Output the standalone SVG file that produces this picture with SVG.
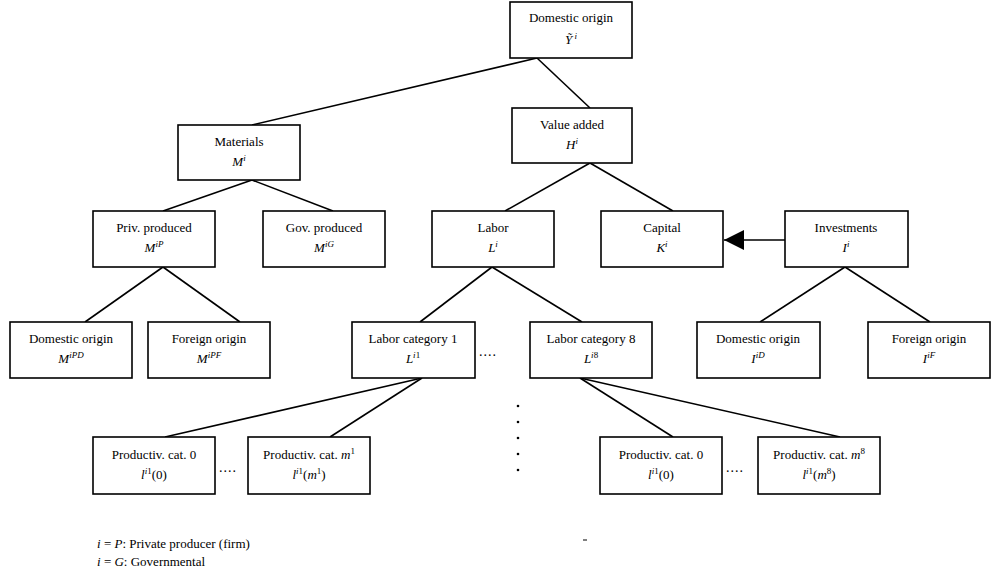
<svg xmlns="http://www.w3.org/2000/svg" width="1003" height="573" viewBox="0 0 1003 573">
<defs>
<style>
.box{fill:#fff;stroke:#000;stroke-width:1.6}
.ln{stroke:#000;stroke-width:1.6;fill:none}
text{font-family:"Liberation Serif","Times New Roman",serif;font-size:13px;fill:#000}
.c{text-anchor:middle}
.it{font-style:italic}
.sup{font-size:9px}
.dots{font-size:14px;letter-spacing:1px}
</style>
<marker id="ah" viewBox="0 0 10 10" refX="10" refY="5" markerWidth="22" markerHeight="20" markerUnits="userSpaceOnUse" orient="auto">
<path d="M0,0 L10,5 L0,10 z" fill="#000"/>
</marker>
</defs>
<g id="connectors">
<line class="ln" x1="537" y1="58" x2="252" y2="125"/>
<line class="ln" x1="537" y1="58" x2="590" y2="108"/>
<line class="ln" x1="252" y1="180" x2="163" y2="211"/>
<line class="ln" x1="252" y1="180" x2="333" y2="211"/>
<line class="ln" x1="590" y1="163" x2="505" y2="211"/>
<line class="ln" x1="590" y1="163" x2="673" y2="211"/>
<line class="ln" x1="163" y1="267" x2="85" y2="322"/>
<line class="ln" x1="163" y1="267" x2="240" y2="322"/>
<line class="ln" x1="492" y1="267" x2="420" y2="322"/>
<line class="ln" x1="492" y1="267" x2="582" y2="322"/>
<line class="ln" x1="845" y1="267" x2="760" y2="322"/>
<line class="ln" x1="845" y1="267" x2="930" y2="322"/>
<line class="ln" x1="422" y1="378" x2="165" y2="437"/>
<line class="ln" x1="422" y1="378" x2="330" y2="437"/>
<line class="ln" x1="580" y1="378" x2="673" y2="437"/>
<line class="ln" x1="580" y1="378" x2="840" y2="437"/>
<line class="ln" x1="785" y1="240" x2="724" y2="240" marker-end="url(#ah)"/>
</g>
<g id="n_top">
<rect class="box" x="510" y="2" width="122" height="56"/>
<text class="c" x="571" y="22">Domestic origin</text>
<text class="c" x="571" y="44"><tspan class="it">Ỹ</tspan><tspan class="it sup" dy="-5"> i</tspan></text>
</g>
<g id="n_materials">
<rect class="box" x="178" y="125" width="122" height="55"/>
<text class="c" x="239" y="146">Materials</text>
<text class="c" x="239" y="166"><tspan class="it">M</tspan><tspan class="it sup" dy="-5">i</tspan></text>
</g>
<g id="n_valueadded">
<rect class="box" x="512" y="108" width="120" height="55"/>
<text class="c" x="572" y="129">Value added</text>
<text class="c" x="572" y="149"><tspan class="it">H</tspan><tspan class="it sup" dy="-5">i</tspan></text>
</g>
<g id="n_priv">
<rect class="box" x="93" y="211" width="122" height="56"/>
<text class="c" x="154" y="232">Priv. produced</text>
<text class="c" x="154" y="252"><tspan class="it">M</tspan><tspan class="it sup" dy="-5">iP</tspan></text>
</g>
<g id="n_gov">
<rect class="box" x="263" y="211" width="122" height="56"/>
<text class="c" x="324" y="232">Gov. produced</text>
<text class="c" x="324" y="252"><tspan class="it">M</tspan><tspan class="it sup" dy="-5">iG</tspan></text>
</g>
<g id="n_labor">
<rect class="box" x="432" y="211" width="122" height="56"/>
<text class="c" x="493" y="232">Labor</text>
<text class="c" x="493" y="252"><tspan class="it">L</tspan><tspan class="it sup" dy="-5">i</tspan></text>
</g>
<g id="n_capital">
<rect class="box" x="601" y="211" width="122" height="56"/>
<text class="c" x="662" y="232">Capital</text>
<text class="c" x="662" y="252"><tspan class="it">K</tspan><tspan class="it sup" dy="-5">i</tspan></text>
</g>
<g id="n_invest">
<rect class="box" x="785" y="211" width="123" height="56"/>
<text class="c" x="846" y="232">Investments</text>
<text class="c" x="846" y="252"><tspan class="it">I</tspan><tspan class="it sup" dy="-5">i</tspan></text>
</g>
<g id="n_mdom">
<rect class="box" x="10" y="322" width="122" height="56"/>
<text class="c" x="71" y="343">Domestic origin</text>
<text class="c" x="71" y="363"><tspan class="it">M</tspan><tspan class="it sup" dy="-5">iPD</tspan></text>
</g>
<g id="n_mfor">
<rect class="box" x="148" y="322" width="122" height="56"/>
<text class="c" x="209" y="343">Foreign origin</text>
<text class="c" x="209" y="363"><tspan class="it">M</tspan><tspan class="it sup" dy="-5">iPF</tspan></text>
</g>
<g id="n_lab1">
<rect class="box" x="352" y="322" width="123" height="56"/>
<text class="c" x="413" y="343">Labor category 1</text>
<text class="c" x="413" y="363"><tspan class="it">L</tspan><tspan class="it sup" dy="-5">i</tspan><tspan class="sup">1</tspan></text>
</g>
<text id="dots_lab" class="dots" x="479" y="356">....</text>
<g id="n_lab8">
<rect class="box" x="530" y="322" width="122" height="56"/>
<text class="c" x="591" y="343">Labor category 8</text>
<text class="c" x="591" y="363"><tspan class="it">L</tspan><tspan class="it sup" dy="-5">i</tspan><tspan class="sup">8</tspan></text>
</g>
<g id="n_idom">
<rect class="box" x="697" y="322" width="123" height="56"/>
<text class="c" x="758" y="343">Domestic origin</text>
<text class="c" x="758" y="363"><tspan class="it">I</tspan><tspan class="it sup" dy="-5">iD</tspan></text>
</g>
<g id="n_ifor">
<rect class="box" x="868" y="322" width="122" height="56"/>
<text class="c" x="929" y="343">Foreign origin</text>
<text class="c" x="929" y="363"><tspan class="it">I</tspan><tspan class="it sup" dy="-5">iF</tspan></text>
</g>
<g id="vdots" fill="#000">
<circle cx="518" cy="406" r="1.3"/>
<circle cx="518" cy="422" r="1.3"/>
<circle cx="518" cy="438" r="1.3"/>
<circle cx="518" cy="454" r="1.3"/>
<circle cx="518" cy="470" r="1.3"/>
</g>
<g id="n_p10">
<rect class="box" x="93" y="437" width="122" height="57"/>
<text class="c" x="154" y="459">Productiv. cat. 0</text>
<text class="c" x="154" y="479"><tspan class="it">l</tspan><tspan class="it sup" dy="-5">i</tspan><tspan class="sup">1</tspan><tspan dy="5">(0)</tspan></text>
</g>
<text id="dots_p1" class="dots" x="219" y="472">....</text>
<g id="n_p1m">
<rect class="box" x="248" y="437" width="122" height="57"/>
<text class="c" x="309" y="459">Productiv. cat. <tspan class="it">m</tspan><tspan class="sup" dy="-5">1</tspan></text>
<text class="c" x="309" y="479"><tspan class="it">l</tspan><tspan class="it sup" dy="-5">i</tspan><tspan class="sup">1</tspan><tspan dy="5">(</tspan><tspan class="it">m</tspan><tspan class="sup" dy="-5">1</tspan><tspan dy="5">)</tspan></text>
</g>
<g id="n_p80">
<rect class="box" x="600" y="437" width="122" height="57"/>
<text class="c" x="661" y="459">Productiv. cat. 0</text>
<text class="c" x="661" y="479"><tspan class="it">l</tspan><tspan class="it sup" dy="-5">i</tspan><tspan class="sup">1</tspan><tspan dy="5">(0)</tspan></text>
</g>
<text id="dots_p8" class="dots" x="726" y="472">....</text>
<g id="n_p8m">
<rect class="box" x="758" y="437" width="122" height="57"/>
<text class="c" x="819" y="459">Productiv. cat. <tspan class="it">m</tspan><tspan class="sup" dy="-5">8</tspan></text>
<text class="c" x="819" y="479"><tspan class="it">l</tspan><tspan class="it sup" dy="-5">i</tspan><tspan class="sup">1</tspan><tspan dy="5">(</tspan><tspan class="it">m</tspan><tspan class="sup" dy="-5">8</tspan><tspan dy="5">)</tspan></text>
</g>
<line x1="583" y1="540" x2="587" y2="540" stroke="#000" stroke-width="1"/>
<g id="legend">
<text x="97" y="548"><tspan class="it">i</tspan> = <tspan class="it">P</tspan>: Private producer (firm)</text>
<text x="97" y="566"><tspan class="it">i</tspan> = <tspan class="it">G</tspan>: Governmental</text>
</g>
</svg>
